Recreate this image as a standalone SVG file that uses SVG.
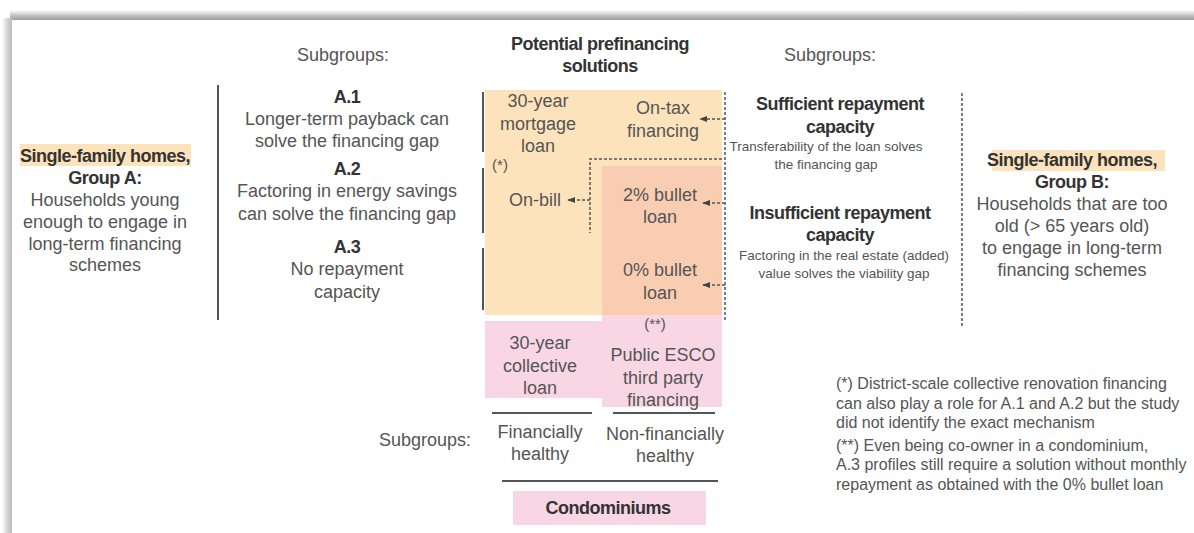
<svg xmlns="http://www.w3.org/2000/svg" width="1194" height="533" viewBox="0 0 1194 533">
<defs>
<linearGradient id="gTop" x1="0" y1="0" x2="0" y2="1"><stop offset="0" stop-color="#ffffff"/><stop offset="0.5" stop-color="#c8c8c8"/><stop offset="1" stop-color="#9a9a9a"/></linearGradient>
<linearGradient id="gLeft" x1="0" y1="0" x2="1" y2="0"><stop offset="0" stop-color="#ffffff"/><stop offset="0.6" stop-color="#cfcfcf"/><stop offset="1" stop-color="#bdbdbd"/></linearGradient>
<marker id="arr" viewBox="0 0 10 10" refX="9" refY="5" markerWidth="8" markerHeight="8" orient="auto" markerUnits="userSpaceOnUse"><path d="M0,1 L10,5 L0,9 z" fill="#444"/></marker>
<style>
text{font-family:"Liberation Sans Narrow","Liberation Sans",Arial,sans-serif;fill:#555;text-anchor:middle}
.t{font-size:18px}
.b{font-weight:bold;fill:#333;letter-spacing:-0.5px}
.s{font-size:13.5px}
.f{font-size:16px;text-anchor:start}
.d{fill:none;stroke:#555;stroke-width:1.5;stroke-dasharray:3,2}
.k{stroke:#555;stroke-width:2}
</style>
</defs>
<rect width="1194" height="533" fill="#fff"/>
<rect x="10" y="10" width="1184" height="10" fill="url(#gTop)"/>
<rect x="2" y="18" width="10" height="515" fill="url(#gLeft)"/>

<g id="fills">
<rect x="485" y="90" width="237" height="225" fill="#fde3bb"/>
<rect x="602" y="166" width="120" height="150" fill="#f9cdb2"/>
<rect x="485" y="321" width="117" height="77" fill="#f8d6e4"/>
<rect x="602" y="315" width="120" height="92" fill="#f8d6e4"/>
</g>

<g id="header">
<text class="t b" x="600" y="50">Potential prefinancing</text>
<text class="t b" x="600" y="72">solutions</text>
<text class="t" x="343" y="61">Subgroups:</text>
<text class="t" x="830" y="61">Subgroups:</text>
<text class="t" x="425" y="446">Subgroups:</text>
</g>

<g id="groupA">
<rect x="20" y="144" width="171" height="22" fill="#fde3bb"/>
<text class="t b" x="105" y="162">Single-family homes,</text>
<text class="t b" x="105" y="184">Group A:</text>
<text class="t" x="105" y="206">Households young</text>
<text class="t" x="105" y="228">enough to engage in</text>
<text class="t" x="105" y="250">long-term financing</text>
<text class="t" x="105" y="271">schemes</text>
</g>

<g id="subA">
<text class="t b" x="347" y="103">A.1</text>
<text class="t" x="347" y="125">Longer-term payback can</text>
<text class="t" x="347" y="147">solve the financing gap</text>
<text class="t b" x="347" y="175">A.2</text>
<text class="t" x="347" y="197">Factoring in energy savings</text>
<text class="t" x="347" y="220">can solve the financing gap</text>
<text class="t b" x="347" y="253">A.3</text>
<text class="t" x="347" y="275">No repayment</text>
<text class="t" x="347" y="298">capacity</text>
</g>

<g id="solutions">
<text class="t" x="538" y="107">30-year</text>
<text class="t" x="538" y="130">mortgage</text>
<text class="t" x="538" y="152">loan</text>
<text class="t" x="500" y="170" style="font-size:15px">(*)</text>
<text class="t" x="663" y="114">On-tax</text>
<text class="t" x="663" y="137">financing</text>
<text class="t" x="535" y="206">On-bill</text>
<text class="t" x="660" y="201">2% bullet</text>
<text class="t" x="660" y="223">loan</text>
<text class="t" x="660" y="276">0% bullet</text>
<text class="t" x="660" y="299">loan</text>
<text class="t" x="655" y="329" style="font-size:15px">(**)</text>
<text class="t" x="540" y="349">30-year</text>
<text class="t" x="540" y="372">collective</text>
<text class="t" x="540" y="394">loan</text>
<text class="t" x="663" y="361">Public ESCO</text>
<text class="t" x="663" y="384">third party</text>
<text class="t" x="663" y="406">financing</text>
</g>

<g id="condo">
<text class="t" x="540" y="438">Financially</text>
<text class="t" x="540" y="460">healthy</text>
<text class="t" x="665" y="440">Non-financially</text>
<text class="t" x="665" y="462">healthy</text>
<rect x="513" y="491" width="193" height="34" fill="#f8d6e4"/>
<text class="t b" x="608" y="514">Condominiums</text>
</g>

<g id="groupBsub">
<text class="t b" x="840" y="110">Sufficient repayment</text>
<text class="t b" x="840" y="133">capacity</text>
<text class="s" x="826" y="151">Transferability of the loan solves</text>
<text class="s" x="826" y="169">the financing gap</text>
<text class="t b" x="840" y="219">Insufficient repayment</text>
<text class="t b" x="840" y="241">capacity</text>
<text class="s" x="844" y="260">Factoring in the real estate (added)</text>
<text class="s" x="844" y="278">value solves the viability gap</text>
</g>

<g id="groupB">
<rect x="992" y="150" width="173" height="21" fill="#fde3bb"/>
<text class="t b" x="1072" y="166">Single-family homes,</text>
<text class="t b" x="1072" y="188">Group B:</text>
<text class="t" x="1072" y="210">Households that are too</text>
<text class="t" x="1072" y="232">old (&gt; 65 years old)</text>
<text class="t" x="1072" y="254">to engage in long-term</text>
<text class="t" x="1072" y="276">financing schemes</text>
</g>

<g id="notes">
<text class="f" x="836" y="389">(*) District-scale collective renovation financing</text>
<text class="f" x="836" y="409">can also play a role for A.1 and A.2 but the study</text>
<text class="f" x="836" y="428">did not identify the exact mechanism</text>
<text class="f" x="836" y="451">(**) Even being co-owner in a condominium,</text>
<text class="f" x="836" y="470">A.3 profiles still require a solution without monthly</text>
<text class="f" x="836" y="490">repayment as obtained with the 0% bullet loan</text>
</g>

<g id="connectors">
<line class="k" x1="218" y1="85" x2="218" y2="320"/>
<line class="k" x1="483" y1="92" x2="483" y2="152"/>
<line class="k" x1="483" y1="168" x2="483" y2="233"/>
<line class="k" x1="483" y1="248" x2="483" y2="310"/>
<line class="k" x1="492" y1="413" x2="592" y2="413"/>
<line class="k" x1="613" y1="413" x2="715" y2="413"/>
<line class="k" x1="502" y1="481" x2="718" y2="481"/>
<line class="d" x1="725" y1="92" x2="725" y2="320"/>
<line class="d" x1="962" y1="93" x2="962" y2="328"/>
<polyline class="d" points="722,159 590,159 590,233"/>
<line class="d" x1="725" y1="119" x2="700" y2="119" marker-end="url(#arr)"/>
<line class="d" x1="725" y1="203" x2="703" y2="203" marker-end="url(#arr)"/>
<line class="d" x1="725" y1="285" x2="703" y2="285" marker-end="url(#arr)"/>
<line class="d" x1="590" y1="200" x2="568" y2="200" marker-end="url(#arr)"/>
</g>
</svg>
